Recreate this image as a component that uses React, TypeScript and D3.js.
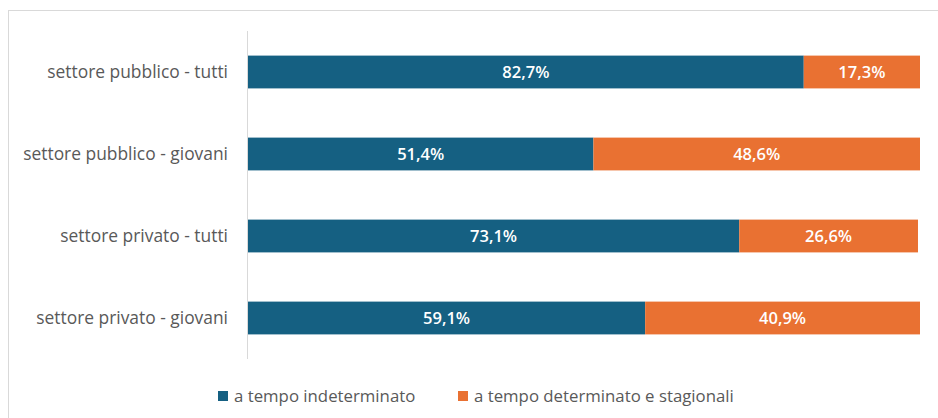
import React from "react";
import * as d3 from "d3";

const categories = [
  "settore pubblico - tutti",
  "settore pubblico - giovani",
  "settore privato - tutti",
  "settore privato - giovani",
];
const indeterminato = [82.7, 51.4, 73.1, 59.1];
const determinato = [17.3, 48.6, 26.6, 40.9];
const seriesNames = ["a tempo indeterminato", "a tempo determinato e stagionali"];
const colors = ["#156082", "#E97132"];

const W = 938;
const H = 418;
const FONT = "'Open Sans', 'Noto Sans', sans-serif";

export default function App() {
  const x = d3.scaleLinear().domain([0, 100]).range([248, 920]);
  const y = d3.scaleBand<string>().domain(categories).range([31, 359]).paddingInner(0.6).paddingOuter(0.3);
  const fmt = (v: number) => v.toFixed(1).replace(".", ",") + "%";

  return (
    <svg width={W} height={H} style={{ position: "absolute", left: 0, top: 0, background: "#fff" }}>
      <line x1={8.5} x2={8.5} y1={10} y2={H} stroke="#d9d9d9" />
      <line x1={8} x2={W} y1={10.5} y2={10.5} stroke="#d9d9d9" />
      <line x1={247.5} x2={247.5} y1={31} y2={359} stroke="#d9d9d9" />
      {categories.map((c, i) => {
        const yy = y(c)!;
        const bh = y.bandwidth();
        const a = indeterminato[i];
        const b = determinato[i];
        return (
          <g key={c}>
            <text x={228} y={yy + bh / 2} dy="0.35em" textAnchor="end" fontFamily={FONT} fontSize={17.4} fill="#595959">
              {c}
            </text>
            <rect x={x(0)} y={yy} width={x(a) - x(0)} height={bh} fill={colors[0]} />
            <rect x={x(a)} y={yy} width={x(a + b) - x(a)} height={bh} fill={colors[1]} />
            <text x={(x(0) + x(a)) / 2} y={yy + bh / 2} dy="0.35em" textAnchor="middle" fontFamily={FONT} fontSize={16.5} fontWeight={600} fill="#fff">
              {fmt(a)}
            </text>
            <text x={(x(a) + x(a + b)) / 2} y={yy + bh / 2} dy="0.35em" textAnchor="middle" fontFamily={FONT} fontSize={16.5} fontWeight={600} fill="#fff">
              {fmt(b)}
            </text>
          </g>
        );
      })}
      <g>
        <rect x={218} y={391} width={10} height={10} fill={colors[0]} />
        <text x={234} y={396} dy="0.35em" fontFamily={FONT} fontSize={16.8} fill="#595959">{seriesNames[0]}</text>
        <rect x={458} y={391} width={10} height={10} fill={colors[1]} />
        <text x={474} y={396} dy="0.35em" fontFamily={FONT} fontSize={16.8} fill="#595959">{seriesNames[1]}</text>
      </g>
    </svg>
  );
}
